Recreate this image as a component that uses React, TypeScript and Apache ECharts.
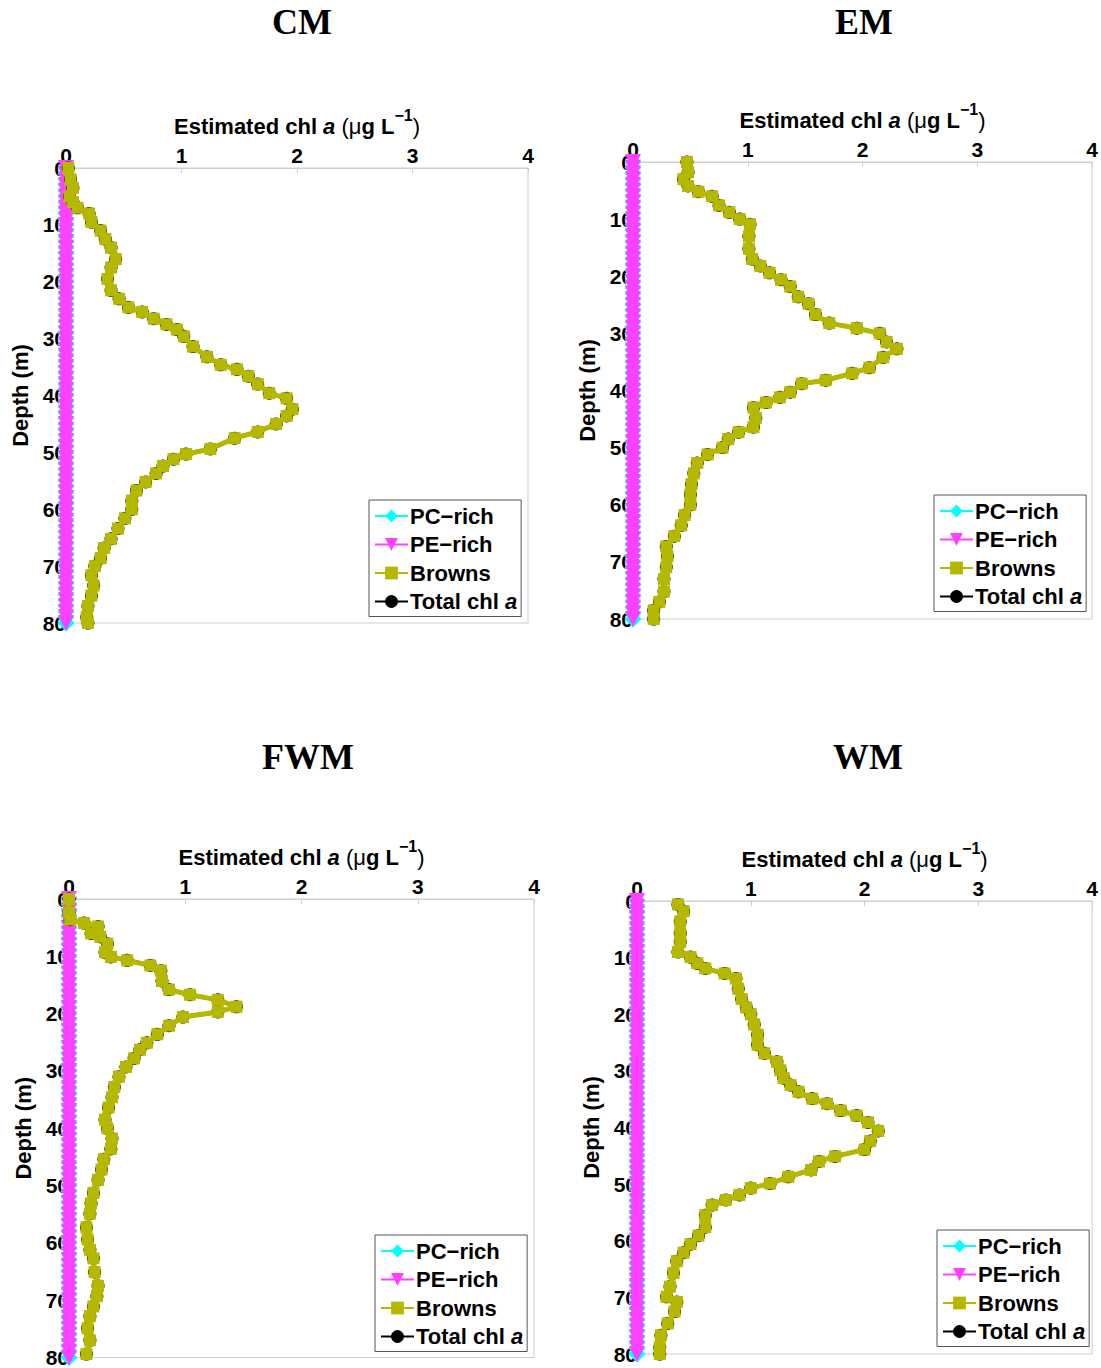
import React, { useEffect, useRef } from "react";
import * as echarts from "echarts";

// ---------- data ----------
const panelNames = ["CM", "EM", "FWM", "WM"];
const xTicks = [0, 1, 2, 3, 4];
const depthTicks = [0, 10, 20, 30, 40, 50, 60, 70, 80];

// sample depths for PC-rich / PE-rich (values are all zero)
const sampleDepths = [
  0, 1, 2, 3, 4, 5, 6, 7, 8, 9, 10, 11, 12, 13, 14, 15, 16, 17, 18, 19, 20,
  21, 22, 23, 24, 25, 26, 27, 28, 29, 30, 31, 32, 33, 34, 35, 36, 37, 38, 39, 40,
  41, 42, 43, 44, 45, 46, 47, 48, 49, 50, 51, 52, 53, 54, 55, 56, 57, 58, 59, 60,
  61, 62, 63, 64, 65, 66, 67, 68, 69, 70, 71, 72, 73, 74, 75, 76, 77, 78, 79, 80,
];
const pcRichValue = 0;
const peRichValue = 0;

// Browns (= Total chl a, since PC-rich and PE-rich are zero)
const cmDepth = [0, 2, 3.5, 5, 6, 7, 8, 9.5, 11, 12.5, 14, 16, 17.5, 19.5, 21.5, 23, 24.5, 25.3, 26.5, 27.5, 28.4, 29.6, 31.4, 33.2, 34.6, 35.4, 36.6, 38, 39.6, 40.5, 42.4, 43.6, 45, 46.4, 47.5, 49.4, 50.3, 51.2, 52.4, 53.7, 55.2, 56.7, 58.5, 60, 61.6, 63.4, 65.2, 66.8, 68.6, 70, 71.6, 73.4, 75.2, 77, 79, 80];
const cmBrowns = [0.02, 0.04, 0.06, 0.03, 0.06, 0.1, 0.2, 0.22, 0.3, 0.34, 0.39, 0.43, 0.39, 0.36, 0.39, 0.46, 0.54, 0.66, 0.76, 0.87, 0.96, 1.02, 1.1, 1.22, 1.34, 1.48, 1.58, 1.66, 1.76, 1.91, 1.96, 1.91, 1.82, 1.66, 1.46, 1.25, 1.04, 0.93, 0.84, 0.78, 0.69, 0.61, 0.57, 0.57, 0.51, 0.45, 0.39, 0.33, 0.3, 0.25, 0.22, 0.24, 0.22, 0.19, 0.18, 0.19];

const emDepth = [0, 1.8, 3, 4.2, 5.2, 6, 7.6, 8.8, 10, 10.9, 13, 15.2, 17, 18.2, 19.4, 20.6, 21.8, 23.6, 24.8, 26.7, 28.2, 29.1, 30, 31.5, 32.7, 34.2, 36, 37, 38.2, 38.8, 40.3, 41.2, 42.1, 43, 44.8, 46.4, 47.3, 48.5, 50, 51.2, 52.7, 54.5, 56.4, 58.2, 60, 61.8, 63.6, 65.5, 67.3, 69, 70.9, 73, 75.2, 77, 78.5, 80];
const emBrowns = [0.47, 0.48, 0.44, 0.48, 0.57, 0.69, 0.75, 0.84, 0.93, 1.02, 1.01, 1.01, 1.04, 1.11, 1.19, 1.29, 1.37, 1.44, 1.53, 1.59, 1.71, 1.95, 2.15, 2.21, 2.3, 2.18, 2.06, 1.91, 1.68, 1.47, 1.37, 1.28, 1.16, 1.05, 1.07, 1.05, 0.92, 0.83, 0.78, 0.65, 0.56, 0.53, 0.51, 0.5, 0.5, 0.45, 0.42, 0.36, 0.29, 0.3, 0.29, 0.27, 0.27, 0.23, 0.18, 0.18];

const fwmDepth = [0, 2.4, 3.6, 4.2, 4.8, 6, 6.6, 7.8, 9.3, 10.1, 10.7, 11.6, 12.5, 14.3, 15.8, 16.7, 17.6, 18.8, 19.7, 20.6, 22.1, 23.6, 25.1, 26.3, 27.8, 29.3, 31, 32.8, 34.6, 36.4, 38.5, 40, 41.8, 43.6, 45.4, 47.2, 49, 51.3, 53.1, 54.9, 57.3, 59.4, 61.2, 62.7, 65.1, 67.5, 69.3, 71.1, 72.8, 74.9, 77, 79.4];
const fwmBrowns = [0, 0, 0.01, 0.13, 0.25, 0.19, 0.27, 0.33, 0.31, 0.36, 0.5, 0.7, 0.79, 0.8, 0.86, 1.04, 1.28, 1.44, 1.28, 0.98, 0.86, 0.76, 0.67, 0.61, 0.56, 0.49, 0.43, 0.39, 0.37, 0.34, 0.31, 0.33, 0.37, 0.36, 0.3, 0.28, 0.25, 0.21, 0.19, 0.18, 0.15, 0.16, 0.18, 0.21, 0.22, 0.25, 0.24, 0.21, 0.18, 0.16, 0.18, 0.15];

const wmDepth = [0.6, 1.8, 3.6, 5.7, 7.2, 9, 9.9, 11, 11.9, 12.8, 13.7, 15.5, 17.3, 18.8, 20, 21.8, 23.6, 25.4, 26.9, 28.4, 29.9, 31.3, 32.5, 33.7, 34.9, 35.8, 37, 37.9, 39.1, 40.6, 42.4, 43.9, 45.1, 46, 47.5, 48.7, 49.9, 50.7, 51.9, 52.8, 53.7, 55.5, 57.6, 59.1, 60.6, 62.1, 63.6, 65.7, 68.1, 69.9, 70.8, 72.5, 74.6, 76.7, 78.8, 80];
const wmBrowns = [0.36, 0.41, 0.38, 0.38, 0.38, 0.36, 0.47, 0.53, 0.6, 0.77, 0.87, 0.89, 0.92, 0.96, 1.0, 1.03, 1.06, 1.06, 1.12, 1.23, 1.26, 1.29, 1.35, 1.42, 1.54, 1.67, 1.79, 1.93, 2.03, 2.12, 2.05, 2.0, 1.74, 1.6, 1.53, 1.33, 1.17, 1.0, 0.9, 0.78, 0.66, 0.6, 0.6, 0.54, 0.47, 0.41, 0.35, 0.32, 0.29, 0.26, 0.35, 0.33, 0.27, 0.21, 0.2, 0.2];

const brownsDepths = [cmDepth, emDepth, fwmDepth, wmDepth];
const brownsValues = [cmBrowns, emBrowns, fwmBrowns, wmBrowns];

const seriesNames = ["PC\u2212rich", "PE\u2212rich", "Browns", "Total chl a"];

// ---------- layout ----------
const grids = [
  { left: 66, top: 168, width: 462, height: 455 },
  { left: 633, top: 162, width: 459, height: 457 },
  { left: 69, top: 899, width: 465, height: 459 },
  { left: 637, top: 901, width: 456, height: 453 },
];
const titlePos = [
  [302, 22],
  [864, 22],
  [308, 757],
  [868, 757],
];
const legendPos = [
  [369, 500],
  [934, 495],
  [375, 1235],
  [937, 1230],
];

const SANS = "'Liberation Sans', Arial, Helvetica, sans-serif";
const SERIF = "'Liberation Serif', 'Times New Roman', serif";
const COL_PC = "#00ffff";
const COL_PE = "#ff40ff";
const COL_BR = "#b5b800";
const COL_TOT = "#000000";
const BOX = "#cfcfcf";

function buildOption() {
  const xAxes: any[] = [];
  const yAxes: any[] = [];
  const series: any[] = [];
  const legends: any[] = [];
  const graphics: any[] = [];

  grids.forEach((g, i) => {
    xAxes.push({
      gridIndex: i,
      type: "value",
      position: "top",
      min: xTicks[0],
      max: xTicks[xTicks.length - 1],
      interval: 1,
      name: "{b|Estimated chl }{i|a}{n| (\u03bc}{b|g L}{s|\u22121}{n|)}",
      nameLocation: "middle",
      nameGap: 31,
      nameTextStyle: {
        rich: {
          b: { fontFamily: SANS, fontWeight: "bold", fontSize: 22, color: "#000", lineHeight: 30, verticalAlign: "bottom" },
          i: { fontFamily: SANS, fontWeight: "bold", fontStyle: "italic", fontSize: 22, color: "#000", lineHeight: 30, verticalAlign: "bottom" },
          n: { fontFamily: SANS, fontWeight: "normal", fontSize: 22, color: "#000", lineHeight: 30, verticalAlign: "bottom" },
          s: { fontFamily: SANS, fontWeight: "bold", fontSize: 16, color: "#000", lineHeight: 30, verticalAlign: "top" },
        },
      },
      axisLine: { show: true, lineStyle: { color: BOX, width: 1 } },
      axisTick: { show: true, inside: true, length: 5, lineStyle: { color: BOX } },
      splitLine: { show: false },
      axisLabel: { color: "#000", fontFamily: SANS, fontWeight: "bold", fontSize: 21, margin: 2 },
    });
    yAxes.push({
      gridIndex: i,
      type: "value",
      inverse: true,
      min: depthTicks[0],
      max: depthTicks[depthTicks.length - 1],
      interval: 10,
      name: "Depth (m)",
      nameLocation: "middle",
      nameGap: 35,
      nameTextStyle: { fontFamily: SANS, fontWeight: "bold", fontSize: 22, color: "#000" },
      axisLine: { show: true, lineStyle: { color: BOX, width: 1 } },
      axisTick: { show: true, inside: true, length: 5, lineStyle: { color: BOX } },
      splitLine: { show: false },
      axisLabel: { color: "#000", fontFamily: SANS, fontWeight: "bold", fontSize: 21, margin: 0 },
    });

    const pcData = sampleDepths.map((d) => [pcRichValue, d]);
    const peData = sampleDepths.map((d) => [peRichValue, d]);
    const brData = brownsDepths[i].map((d, k) => [brownsValues[i][k], d]);
    const totData = brownsDepths[i].map((d, k) => [brownsValues[i][k] + pcRichValue + peRichValue, d]);

    series.push({
      name: seriesNames[0],
      type: "line",
      xAxisIndex: i,
      yAxisIndex: i,
      data: pcData,
      showAllSymbol: true,
      clip: false,
      symbol: "diamond",
      symbolSize: 17,
      lineStyle: { color: COL_PC, width: 3 },
      itemStyle: { color: COL_PC },
      z: 2,
    });
    series.push({
      name: seriesNames[1],
      type: "line",
      xAxisIndex: i,
      yAxisIndex: i,
      data: peData,
      showAllSymbol: true,
      clip: false,
      symbol: "triangle",
      symbolRotate: 180,
      symbolSize: 16,
      lineStyle: { color: COL_PE, width: 3 },
      itemStyle: { color: COL_PE },
      z: 3,
    });
    series.push({
      name: seriesNames[3],
      type: "line",
      xAxisIndex: i,
      yAxisIndex: i,
      data: totData,
      showAllSymbol: true,
      clip: false,
      symbol: "circle",
      symbolSize: 13,
      lineStyle: { color: COL_TOT, width: 4 },
      itemStyle: { color: COL_TOT },
      z: 4,
    });
    series.push({
      name: seriesNames[2],
      type: "line",
      xAxisIndex: i,
      yAxisIndex: i,
      data: brData,
      showAllSymbol: true,
      clip: false,
      symbol: "rect",
      symbolSize: 12,
      lineStyle: { color: COL_BR, width: 5 },
      itemStyle: { color: COL_BR },
      z: 5,
    });

    legends.push({
      orient: "vertical",
      left: legendPos[i][0],
      top: legendPos[i][1],
      data: [seriesNames[0], seriesNames[1], seriesNames[2], seriesNames[3]],
      backgroundColor: "#fff",
      borderColor: "#555",
      borderWidth: 1,
      borderRadius: 0,
      padding: [5, 4, 4, 5],
      itemGap: 6.5,
      itemWidth: 33,
      itemHeight: 16,
      selectedMode: false,
      formatter: (name: string) => (name === "Total chl a" ? "{t|Total chl }{ti|a}" : "{t|" + name + "}"),
      textStyle: {
        fontFamily: SANS,
        fontWeight: "bold",
        fontSize: 22,
        color: "#000",
        padding: [0, 0, 0, -3],
        rich: {
          t: { fontFamily: SANS, fontWeight: "bold", fontSize: 22, color: "#000", lineHeight: 25 },
          ti: { fontFamily: SANS, fontWeight: "bold", fontStyle: "italic", fontSize: 22, color: "#000", lineHeight: 25 },
        },
      },
    });

    graphics.push({
      type: "text",
      x: titlePos[i][0],
      y: titlePos[i][1],
      style: {
        text: panelNames[i],
        font: `bold 36px ${SERIF}`,
        fill: "#000",
        textAlign: "center",
        textVerticalAlign: "middle",
      },
    });
  });

  return {
    animation: false,
    backgroundColor: "#fff",
    grid: grids.map((g) => ({ ...g, show: true, borderColor: BOX, borderWidth: 1, backgroundColor: "transparent" })),
    xAxis: xAxes,
    yAxis: yAxes,
    legend: legends,
    series,
    graphic: graphics,
  };
}

export default function App() {
  const ref = useRef<HTMLDivElement>(null);
  useEffect(() => {
    document.body.style.margin = "0";
    const chart = echarts.init(ref.current!, undefined, { renderer: "svg" });
    chart.setOption(buildOption() as any);
    return () => chart.dispose();
  }, []);
  return <div ref={ref} style={{ width: 1101, height: 1368 }} />;
}
